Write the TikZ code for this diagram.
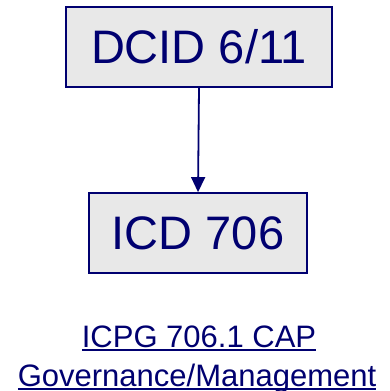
\documentclass[tikz,border=0pt]{standalone}
\usepackage{fontspec}
\setmainfont{Liberation Sans}
\usetikzlibrary{arrows.meta}
\definecolor{navy}{HTML}{000070}
\definecolor{boxfill}{HTML}{E8E8E8}
\newcommand\myul[1]{\setbox0\hbox{#1}\rlap{\rule[-3.6pt]{\wd0}{1.6pt}}\box0}
\tikzset{
  docbox/.style={draw=navy, line width=1.8pt, fill=boxfill, text=navy, inner sep=0pt,
    font=\fontsize{47}{50}\selectfont, text height=33.6pt, text depth=0pt, align=center},
  linktext/.style={text=navy, inner sep=0pt, font=\fontsize{31}{36}\selectfont, anchor=base},
  flow/.style={draw=navy, line width=1.8pt, -{Triangle[width=14pt,length=15pt]}}
}
\begin{document}
\begin{tikzpicture}[x=1pt,y=-1pt]
\useasboundingbox (0,0) rectangle (389,391);
\node[docbox, minimum width=266pt, minimum height=80pt] (dcid) at (199,47) {DCID 6/11};
\node[docbox, minimum width=218pt, minimum height=80pt] (icd) at (198,233) {ICD 706};
\draw[flow] (dcid.south) -- (icd.north);
\node[linktext] (l1) at (199,347) {\myul{ICPG 706.1 CAP}};
\node[linktext] (l2) at (197,386) {\myul{Governance/Management}};
\end{tikzpicture}
\end{document}
